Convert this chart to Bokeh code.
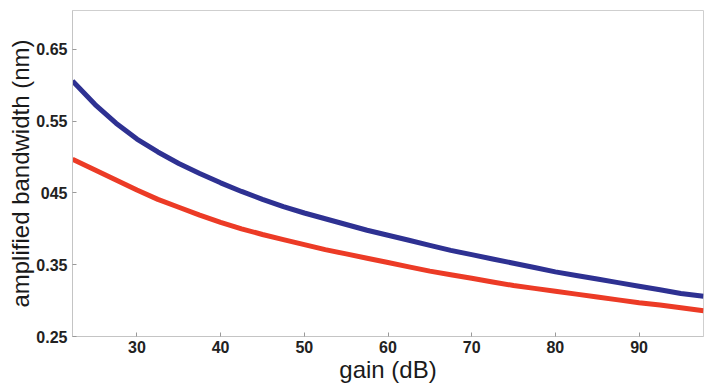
from bokeh.plotting import figure
from bokeh.models import FixedTicker, Range1d, Title
from bokeh.embed import file_html
from bokeh.resources import INLINE

# gain (dB) sample positions
gain = [22.3, 25, 27.5, 30, 32.5, 35, 37.5, 40, 42.5, 45, 47.5, 50, 52.5, 55,
        57.5, 60, 62.5, 65, 67.5, 70, 72.5, 75, 77.5, 80, 82.5, 85, 87.5, 90,
        92.5, 95, 97.7]
# blue (upper) curve, amplified bandwidth (nm)
bw_blue = [0.606, 0.573, 0.547, 0.525, 0.507, 0.491, 0.477, 0.464, 0.452, 0.441,
           0.431, 0.422, 0.414, 0.406, 0.398, 0.391, 0.384, 0.377, 0.370, 0.364,
           0.358, 0.352, 0.346, 0.340, 0.335, 0.330, 0.325, 0.320, 0.315, 0.310,
           0.306]
# red (lower) curve, amplified bandwidth (nm)
bw_red = [0.497, 0.482, 0.468, 0.454, 0.441, 0.430, 0.419, 0.409, 0.400, 0.392,
          0.385, 0.378, 0.371, 0.365, 0.359, 0.353, 0.347, 0.341, 0.336, 0.331,
          0.326, 0.321, 0.317, 0.313, 0.309, 0.305, 0.301, 0.297, 0.294, 0.290,
          0.286]

x_ticks = [30, 40, 50, 60, 70, 80, 90]
y_ticks = [0.25, 0.35, 0.45, 0.55, 0.65]
y_tick_labels = {0.25: "0.25", 0.35: "0.35", 0.45: "045", 0.55: "0.55", 0.65: "0.65"}

p = figure(width=704, height=386, output_backend="svg", toolbar_location=None,
           x_range=Range1d(22.3, 97.7), y_range=Range1d(0.25, 0.704),
           min_border_left=72, min_border_right=1, min_border_top=10, min_border_bottom=50)

p.line(gain, bw_blue, line_color="#2e3192", line_width=5, line_join="round")
p.line(gain, bw_red, line_color="#ec3b26", line_width=5, line_join="round")

p.xgrid.visible = False
p.ygrid.visible = False
p.background_fill_color = "white"
p.border_fill_color = "white"
p.outline_line_color = "#cfcfcf"
p.outline_line_width = 1

p.xaxis.ticker = FixedTicker(ticks=x_ticks)
p.yaxis.ticker = FixedTicker(ticks=y_ticks)
p.yaxis.major_label_overrides = y_tick_labels

for ax in (p.xaxis[0], p.yaxis[0]):
    ax.axis_line_color = "#c4c4c4"
    ax.major_tick_line_color = "#999999"
    ax.major_tick_in = 4
    ax.major_tick_out = 0
    ax.minor_tick_line_color = None
    ax.major_label_text_font = "Liberation Sans"
    ax.major_label_text_font_size = "16px"
    ax.major_label_text_font_style = "bold"
    ax.major_label_text_color = "#222222"
    ax.axis_label_text_font = "Liberation Sans"
    ax.axis_label_text_font_style = "normal"
    ax.axis_label_text_color = "#1a1a1a"

p.xaxis.axis_label_text_font_size = "24px"
p.xaxis.axis_label = "gain (dB)"
p.xaxis.major_label_standoff = 4
p.xaxis.axis_label_standoff = 0
p.yaxis.major_label_standoff = 5

ytitle = Title(text="amplified bandwidth (nm)", align="center",
               text_font="Liberation Sans", text_font_size="24px",
               text_font_style="normal", text_color="#1a1a1a",
               standoff=0, offset=0)
p.add_layout(ytitle, "left")

open("out.html", "w").write(file_html(p, INLINE))
